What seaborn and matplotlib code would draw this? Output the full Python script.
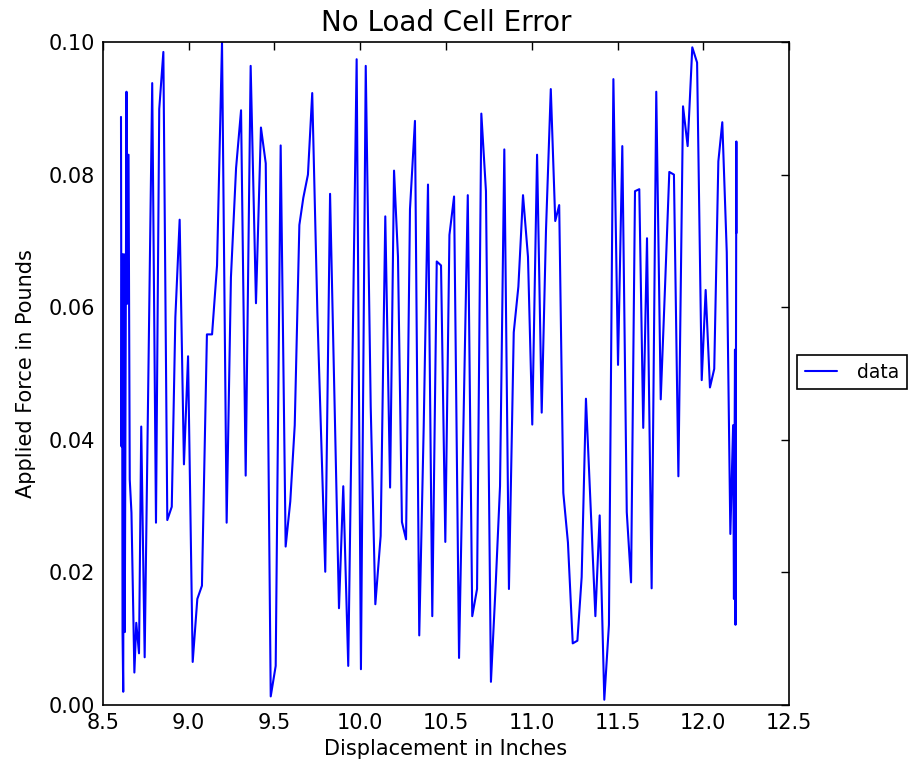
import matplotlib
matplotlib.use("Agg")
import matplotlib.pyplot as plt
import seaborn as sns
import pandas as pd

displacement = [
    8.605, 8.608, 8.611, 8.614, 8.618, 8.622, 8.627, 8.637, 8.640, 8.649,
    8.656, 8.666, 8.683, 8.694, 8.710, 8.723, 8.743, 8.787, 8.809, 8.828,
    8.852, 8.875, 8.901, 8.922, 8.947, 8.972, 8.996, 9.023, 9.050, 9.077,
    9.106, 9.136, 9.165, 9.194, 9.221, 9.246, 9.276, 9.305, 9.332, 9.361,
    9.392, 9.421, 9.449, 9.478, 9.507, 9.536, 9.565, 9.592, 9.618, 9.645,
    9.668, 9.695, 9.720, 9.750, 9.796, 9.824, 9.876, 9.901, 9.930, 9.979,
    10.004, 10.032, 10.061, 10.088, 10.119, 10.146, 10.174, 10.197, 10.220, 10.243,
    10.267, 10.290, 10.319, 10.344, 10.370, 10.395, 10.420, 10.446, 10.471, 10.496,
    10.520, 10.547, 10.576, 10.627, 10.653, 10.681, 10.706, 10.733, 10.762, 10.790,
    10.815, 10.840, 10.867, 10.895, 10.922, 10.949, 10.978, 11.003, 11.031, 11.058,
    11.083, 11.111, 11.137, 11.160, 11.184, 11.211, 11.239, 11.266, 11.291, 11.316,
    11.371, 11.396, 11.423, 11.450, 11.476, 11.503, 11.528, 11.554, 11.579, 11.602,
    11.627, 11.650, 11.672, 11.699, 11.726, 11.752, 11.777, 11.802, 11.829, 11.855,
    11.882, 11.909, 11.936, 11.964, 11.991, 12.014, 12.039, 12.064, 12.088, 12.111,
    12.137, 12.158, 12.174, 12.179, 12.185, 12.188, 12.193, 12.194,
]

force = [
    0.0887, 0.0390, 0.0680, 0.0110, 0.0020, 0.0680, 0.0110, 0.0925, 0.0605, 0.0830,
    0.0340, 0.0290, 0.0049, 0.0124, 0.0078, 0.0420, 0.0072, 0.0938, 0.0275, 0.0899,
    0.0985, 0.0279, 0.0299, 0.0585, 0.0732, 0.0363, 0.0526, 0.0065, 0.0160, 0.0180,
    0.0559, 0.0559, 0.0663, 0.1000, 0.0275, 0.0645, 0.0810, 0.0897, 0.0346, 0.0964,
    0.0606, 0.0871, 0.0817, 0.0013, 0.0059, 0.0844, 0.0239, 0.0307, 0.0422, 0.0724,
    0.0765, 0.0800, 0.0923, 0.0592, 0.0201, 0.0771, 0.0146, 0.0330, 0.0059, 0.0974,
    0.0054, 0.0964, 0.0450, 0.0152, 0.0255, 0.0737, 0.0328, 0.0806, 0.0676, 0.0276,
    0.0250, 0.0748, 0.0881, 0.0105, 0.0420, 0.0785, 0.0134, 0.0669, 0.0663, 0.0246,
    0.0709, 0.0767, 0.0071, 0.0769, 0.0134, 0.0175, 0.0892, 0.0775, 0.0035, 0.0183,
    0.0330, 0.0838, 0.0175, 0.0562, 0.0631, 0.0769, 0.0676, 0.0423, 0.0830, 0.0441,
    0.0716, 0.0929, 0.0730, 0.0754, 0.0320, 0.0245, 0.0093, 0.0097, 0.0193, 0.0462,
    0.0134, 0.0286, 0.0008, 0.0121, 0.0944, 0.0513, 0.0843, 0.0291, 0.0185, 0.0775,
    0.0778, 0.0418, 0.0704, 0.0176, 0.0925, 0.0461, 0.0630, 0.0804, 0.0800, 0.0345,
    0.0903, 0.0843, 0.0992, 0.0969, 0.0490, 0.0626, 0.0479, 0.0507, 0.0820, 0.0879,
    0.0683, 0.0258, 0.0422, 0.0160, 0.0536, 0.0121, 0.0850, 0.0712,
]

x_ticks = [8.5, 9.0, 9.5, 10.0, 10.5, 11.0, 11.5, 12.0, 12.5]
y_ticks = [0.00, 0.02, 0.04, 0.06, 0.08, 0.10]

sns.set_style("white")
plt.rcParams["font.family"] = ["DejaVu Sans"]
plt.rcParams["text.color"] = "black"
plt.rcParams["axes.labelcolor"] = "black"
plt.rcParams["xtick.color"] = "black"
plt.rcParams["ytick.color"] = "black"
plt.rcParams["xtick.direction"] = "in"
plt.rcParams["ytick.direction"] = "in"

df = pd.DataFrame({"Displacement": displacement, "Force": force, "series": "data"})

fig = plt.figure(figsize=(9.09, 7.65), dpi=100, facecolor="white")
ax = fig.add_axes([0.1133, 0.0784, 0.7547, 0.8667])
sns.lineplot(data=df, x="Displacement", y="Force", hue="series", palette=["#0000ff"],
             sort=False, estimator=None, linewidth=1.5, ax=ax)

ax.set_xlim(8.5, 12.5)
ax.set_ylim(0.0, 0.10)
ax.set_xticks(x_ticks)
ax.set_xticklabels([f"{t:.1f}" for t in x_ticks])
ax.set_yticks(y_ticks)
ax.set_yticklabels([f"{t:.2f}" for t in y_ticks])
ax.tick_params(axis="both", which="both", direction="in", top=True, right=True,
               length=6, width=1, labelsize=15, colors="black", pad=6)
for s in ax.spines.values():
    s.set_visible(True)
    s.set_color("black")
    s.set_linewidth(1.2)

ax.set_title("No Load Cell Error", fontsize=20, pad=8, color="black")
ax.set_xlabel("Displacement in Inches", fontsize=15, labelpad=4, color="black")
ax.set_ylabel("Applied Force in Pounds", fontsize=15, labelpad=9, color="black")

leg = ax.legend(loc="center left", bbox_to_anchor=(1.012, 0.502), fontsize=13.5,
                frameon=True, fancybox=False, framealpha=1, edgecolor="black",
                handlelength=1.7, handletextpad=1.1, borderpad=0.4,
                borderaxespad=0.0)
leg.get_frame().set_linewidth(1.2)
for t in leg.get_texts():
    t.set_color("black")

fig.savefig("out.png", dpi=100, facecolor="white")
